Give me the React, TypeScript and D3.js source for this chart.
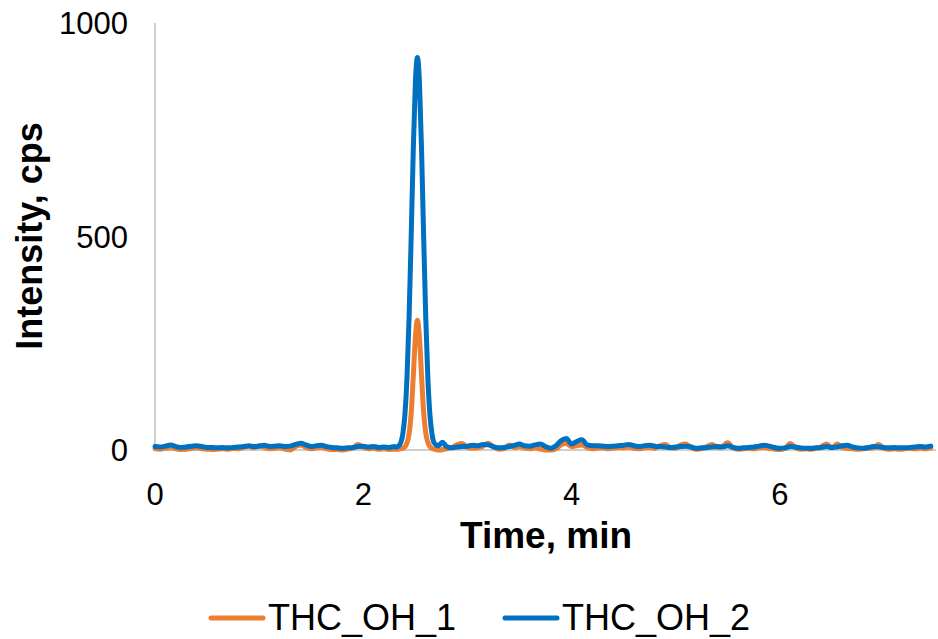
import React, { useEffect, useRef } from 'react';
import * as d3 from 'd3';

// Retention time (min)
const times = [
  0.00, 0.05, 0.10, 0.15, 0.20, 0.25, 0.30, 0.35, 0.40, 0.45,
  0.50, 0.55, 0.60, 0.65, 0.70, 0.75, 0.80, 0.85, 0.90, 0.95,
  1.00, 1.05, 1.10, 1.15, 1.20, 1.25, 1.30, 1.35, 1.40, 1.45,
  1.50, 1.55, 1.60, 1.65, 1.70, 1.75, 1.80, 1.85, 1.90, 1.95,
  2.00, 2.05, 2.10, 2.15, 2.20, 2.25, 2.30,
  2.32, 2.34, 2.36, 2.38, 2.40, 2.42, 2.44, 2.46, 2.48, 2.50,
  2.52, 2.54, 2.56, 2.58, 2.60, 2.62, 2.64, 2.66, 2.68, 2.70,
  2.72, 2.74, 2.76,
  2.80, 2.85, 2.90, 2.95, 3.00, 3.05, 3.10, 3.15, 3.20, 3.25,
  3.30, 3.35, 3.40, 3.45, 3.50, 3.55, 3.60, 3.65, 3.70, 3.75,
  3.80, 3.85, 3.90, 3.95, 4.00, 4.05, 4.10, 4.15, 4.20, 4.25,
  4.30, 4.35, 4.40, 4.45, 4.50, 4.55, 4.60, 4.65, 4.70, 4.75,
  4.80, 4.85, 4.90, 4.95, 5.00, 5.05, 5.10, 5.15, 5.20, 5.25,
  5.30, 5.35, 5.40, 5.45, 5.50, 5.55, 5.60, 5.65, 5.70, 5.75,
  5.80, 5.85, 5.90, 5.95, 6.00, 6.05, 6.10, 6.15, 6.20, 6.25,
  6.30, 6.35, 6.40, 6.45, 6.50, 6.55, 6.60, 6.65, 6.70, 6.75,
  6.80, 6.85, 6.90, 6.95, 7.00, 7.05, 7.10, 7.15, 7.20, 7.25,
  7.30, 7.35, 7.40, 7.45,
];

// THC_OH_1 intensity (cps)
const thcOh1 = [
  3, 2, 4, 6, 3, 1, 2, 4, 5, 3,
  2, 1, 2, 3, 2, 4, 3, 6, 9, 5,
  10, 6, 3, 4, 5, 2, 0, 8, 12, 6,
  3, 5, 6, 3, 1, 1, 0, 2, 5, 13,
  6, 3, 4, 2, 3, 1, 2,
  2, 2, 3, 4, 7, 17, 38, 85, 170, 262,
  304, 262, 172, 88, 40, 18, 8, 4, 2, 1,
  0, 0, 1,
  3, 6, 12, 15, 6, 4, 5, 9, 16, 7,
  2, 3, 12, 6, 8, 5, 3, 5, 2, 0,
  0, 3, 12, 16, 8, 10, 12, 6, 3, 4,
  5, 3, 4, 6, 5, 7, 4, 3, 5, 6,
  4, 10, 13, 5, 4, 12, 14, 5, 2, 3,
  8, 13, 6, 9, 17, 5, 2, 3, 4, 3,
  5, 6, 4, 2, 1, 4, 15, 6, 2, 3,
  2, 4, 8, 14, 5, 14, 6, 4, 3, 2,
  3, 4, 5, 13, 4, 2, 3, 2, 3, 4,
  3, 4, 3, 5,
];

// THC_OH_2 intensity (cps)
const thcOh2 = [
  8, 7, 9, 12, 8, 6, 7, 9, 10, 8,
  6, 6, 5, 6, 5, 6, 7, 8, 10, 8,
  9, 11, 8, 9, 10, 8, 9, 13, 16, 12,
  8, 10, 11, 8, 6, 5, 4, 5, 6, 8,
  9, 7, 8, 6, 7, 6, 8,
  7, 10, 17, 38, 83, 170, 311, 498, 700, 858,
  919, 858, 700, 498, 311, 170, 83, 38, 17, 12,
  10, 14, 18,
  8, 5, 7, 8, 9, 11, 10, 13, 12, 8,
  5, 6, 8, 11, 14, 10, 9, 12, 14, 8,
  4, 10, 22, 27, 14, 20, 24, 12, 10, 10,
  9, 8, 9, 10, 11, 13, 10, 8, 10, 11,
  9, 8, 7, 6, 7, 8, 9, 7, 4, 5,
  6, 7, 8, 7, 10, 6, 4, 5, 6, 7,
  9, 11, 9, 6, 4, 5, 8, 7, 5, 4,
  4, 5, 6, 8, 6, 7, 10, 11, 7, 5,
  4, 6, 8, 7, 6, 5, 6, 5, 5, 6,
  7, 8, 7, 9,
];

const xTicks = [0, 2, 4, 6];
const yTicks = [0, 500, 1000];

const seriesNames = ['THC_OH_1', 'THC_OH_2'];
const seriesColors = ['#ED7D31', '#0070C0'];

const App = () => {
  const svgRef = useRef<SVGSVGElement>(null);

  useEffect(() => {
    const width = 938;
    const height = 639;
    const font = 'Arial, "Liberation Sans", sans-serif';

    const svg = d3.select(svgRef.current)
      .attr('width', width)
      .attr('height', height)
      .style('background', '#ffffff');

    svg.selectAll('*').remove();

    const x = d3.scaleLinear().domain([0, 7.5]).range([155, 936]);
    const y = d3.scaleLinear().domain([0, 1000]).range([450, 23]);

    // Axis lines
    svg.append('line')
      .attr('x1', x(0)).attr('x2', x(0))
      .attr('y1', y(1000)).attr('y2', y(0))
      .attr('stroke', '#BFBFBF').attr('stroke-width', 1.5);
    svg.append('line')
      .attr('x1', x(0)).attr('x2', x(7.5))
      .attr('y1', y(0)).attr('y2', y(0))
      .attr('stroke', '#BFBFBF').attr('stroke-width', 1.5);

    // Tick labels
    svg.append('g')
      .selectAll('text')
      .data(yTicks)
      .join('text')
      .attr('x', 128)
      .attr('y', d => y(d))
      .attr('dy', '0.36em')
      .attr('text-anchor', 'end')
      .style('font-family', font)
      .style('font-size', '31px')
      .attr('fill', '#000')
      .text(d => d);

    svg.append('g')
      .selectAll('text')
      .data(xTicks)
      .join('text')
      .attr('x', d => x(d))
      .attr('y', 505)
      .attr('text-anchor', 'middle')
      .style('font-family', font)
      .style('font-size', '31px')
      .attr('fill', '#000')
      .text(d => d);

    // Axis titles
    svg.append('text')
      .attr('x', 546)
      .attr('y', 548)
      .attr('text-anchor', 'middle')
      .style('font-family', font)
      .style('font-size', '37px')
      .style('font-weight', 'bold')
      .text('Time, min');

    svg.append('text')
      .attr('transform', 'translate(42,236) rotate(-90)')
      .attr('text-anchor', 'middle')
      .style('font-family', font)
      .style('font-size', '36px')
      .style('font-weight', 'bold')
      .text('Intensity, cps');

    // Lines
    const line = d3.line<number>()
      .x((_, i) => x(times[i]))
      .y(d => y(d))
      .curve(d3.curveMonotoneX);

    [thcOh1, thcOh2].forEach((values, k) => {
      svg.append('path')
        .datum(values)
        .attr('fill', 'none')
        .attr('stroke', seriesColors[k])
        .attr('stroke-width', 5)
        .attr('stroke-linejoin', 'round')
        .attr('stroke-linecap', 'round')
        .attr('d', line);
    });

    // Legend
    const legendX = [211, 505];
    const legend = svg.append('g')
      .selectAll('g')
      .data(seriesNames)
      .join('g')
      .attr('transform', (_, i) => `translate(${legendX[i]},618)`);

    legend.append('line')
      .attr('x1', 0).attr('x2', 52)
      .attr('y1', 0).attr('y2', 0)
      .attr('stroke', (_, i) => seriesColors[i])
      .attr('stroke-width', 5)
      .attr('stroke-linecap', 'round');

    legend.append('text')
      .attr('x', 57)
      .attr('y', 12)
      .style('font-family', font)
      .style('font-size', '36px')
      .attr('fill', '#000')
      .text(d => d);
  }, []);

  return (
    <svg ref={svgRef} style={{ position: 'absolute', left: 0, top: 0 }}></svg>
  );
};

export default App;
